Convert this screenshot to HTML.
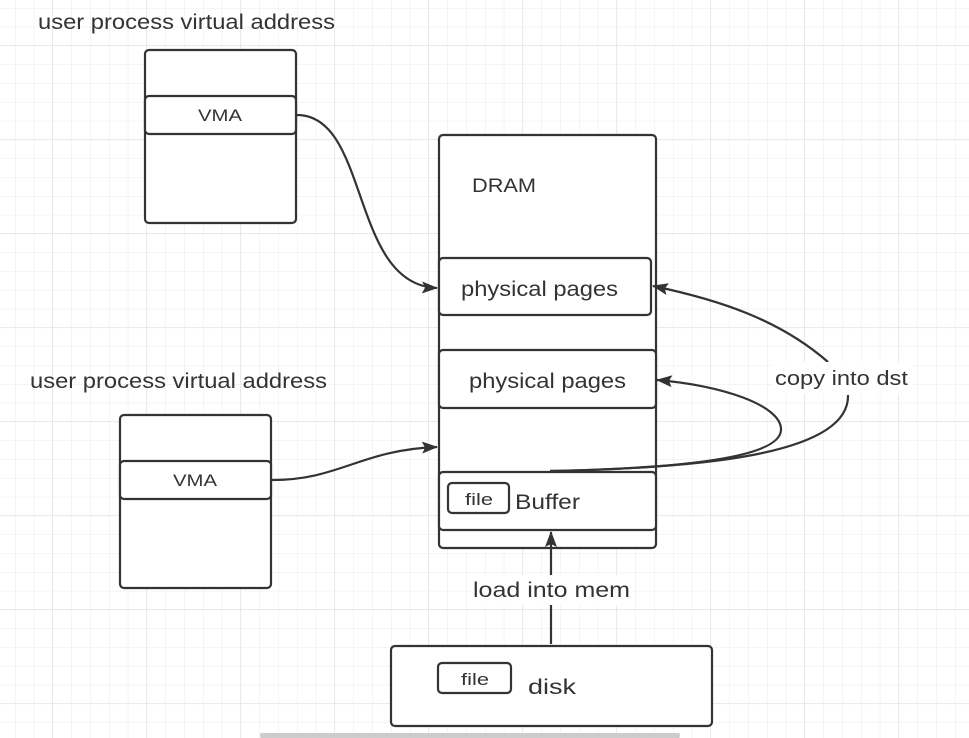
<!DOCTYPE html>
<html><head><meta charset="utf-8"><style>
html,body{margin:0;padding:0;background:#fff}
svg{display:block}
text{font-family:"Liberation Sans",sans-serif;fill:#333}
</style></head><body>
<svg width="969" height="738" viewBox="0 0 969 738" xmlns="http://www.w3.org/2000/svg">
<defs>
<pattern id="g" x="15" y="8" width="18.8" height="18.8" patternUnits="userSpaceOnUse">
<path d="M0 0V18.8M0 0H18.8" stroke="#ebebeb" stroke-width="1" fill="none"/>
</pattern>
<pattern id="G" x="52" y="45" width="94" height="94" patternUnits="userSpaceOnUse">
<path d="M0 0V94M0 0H94" stroke="#e6e6e6" stroke-width="1.2" fill="none"/>
</pattern>
<marker id="a" markerWidth="16" markerHeight="12" refX="15" refY="6" orient="auto" markerUnits="userSpaceOnUse">
<path d="M0 0L16 6L0 12L3 6z" fill="#333"/>
</marker>
</defs>
<rect width="969" height="738" fill="#fff"/>
<rect width="969" height="738" fill="url(#g)"/>
<rect width="969" height="738" fill="url(#G)"/>
<g fill="#fff" stroke="#333" stroke-width="2.2">
<rect x="145" y="50" width="151" height="173" rx="4"/>
<rect x="145" y="96" width="151" height="38" rx="4"/>
<rect x="120" y="415" width="151" height="173" rx="4"/>
<rect x="120" y="461" width="151" height="38" rx="4"/>
<rect x="439" y="135" width="217" height="413" rx="4"/>
<rect x="439" y="258" width="212" height="57" rx="4"/>
<rect x="439" y="350" width="217" height="58" rx="4"/>
<rect x="439" y="472" width="217" height="58" rx="4"/>
<rect x="448" y="483" width="61" height="30" rx="4"/>
<rect x="391" y="646" width="321" height="80" rx="4"/>
<rect x="438" y="663" width="73" height="30" rx="4"/>
</g>
<g fill="none" stroke="#333" stroke-width="2.2">
<path d="M297 115C370 115 350 285 437 288" marker-end="url(#a)"/>
<path d="M272 480C340 480 360 450 437 447" marker-end="url(#a)"/>
<path d="M551 644V532" marker-end="url(#a)"/>
<path d="M550 471C700 468 780 455 781 430C782 405 720 385 657 380" marker-end="url(#a)"/>
<path d="M550 471C700 468 850 455 848 395" />
<path d="M828 362C780 320 720 300 653 286" marker-end="url(#a)"/>
</g>
<rect x="772" y="362" width="140" height="32" fill="#fff"/>
<rect x="472" y="575" width="160" height="30" fill="#fff"/>
<g font-size="21">
<text x="38" y="29" textLength="297" lengthAdjust="spacingAndGlyphs">user process virtual address</text>
<text x="30" y="388" textLength="297" lengthAdjust="spacingAndGlyphs">user process virtual address</text>
<text x="472" y="192" font-size="19" textLength="64" lengthAdjust="spacingAndGlyphs">DRAM</text>
<text x="461" y="296" textLength="157" lengthAdjust="spacingAndGlyphs">physical pages</text>
<text x="469" y="388" textLength="157" lengthAdjust="spacingAndGlyphs">physical pages</text>
<text x="515" y="509" textLength="65" lengthAdjust="spacingAndGlyphs">Buffer</text>
<text x="775" y="385" font-size="20" textLength="133" lengthAdjust="spacingAndGlyphs">copy into dst</text>
<text x="473" y="597" textLength="157" lengthAdjust="spacingAndGlyphs">load into mem</text>
<text x="528" y="694" textLength="48" lengthAdjust="spacingAndGlyphs">disk</text>
</g>
<g font-size="17">
<text x="198" y="121" textLength="44" lengthAdjust="spacingAndGlyphs">VMA</text>
<text x="173" y="486" textLength="44" lengthAdjust="spacingAndGlyphs">VMA</text>
<text x="465" y="505" textLength="28" lengthAdjust="spacingAndGlyphs">file</text>
<text x="461" y="685" textLength="28" lengthAdjust="spacingAndGlyphs">file</text>
</g>
<rect x="260" y="733" width="420" height="5" rx="2" fill="#ccc"/>
</svg>
</body></html>
